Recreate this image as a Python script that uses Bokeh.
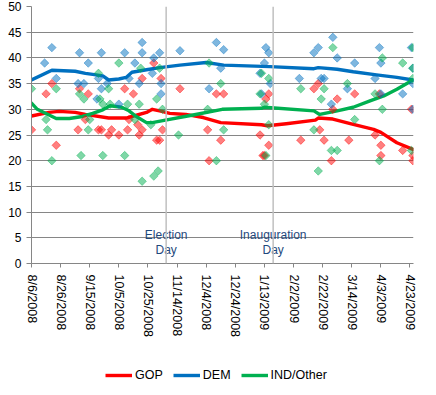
import pandas as pd
from bokeh.plotting import figure
from bokeh.layouts import column
from bokeh.models import (Span, FixedTicker, CustomJSTickFormatter, Legend, LegendItem,
                          Range1d)
from bokeh.core.properties import value
from bokeh.embed import file_html
from bokeh.resources import INLINE

# ---------------- data ----------------
gop_dates = ["2008-08-06", "2008-08-16", "2008-08-20", "2008-08-23", "2008-09-07", "2008-09-08",
             "2008-09-12", "2008-09-14", "2008-09-21", "2008-09-23", "2008-09-28", "2008-09-30",
             "2008-10-05", "2008-10-09", "2008-10-11", "2008-10-12", "2008-10-15", "2008-10-18",
             "2008-10-19", "2008-10-21", "2008-10-21", "2008-10-29", "2008-10-31", "2008-11-02",
             "2008-11-03", "2008-11-04", "2008-11-16", "2008-12-05", "2008-12-06", "2008-12-11",
             "2008-12-14", "2008-12-16", "2009-01-10", "2009-01-12", "2009-01-13", "2009-01-14",
             "2009-01-16", "2009-01-16", "2009-02-07", "2009-02-16", "2009-02-19", "2009-02-20",
             "2009-02-23", "2009-02-28", "2009-03-01", "2009-03-04", "2009-03-12", "2009-03-16",
             "2009-03-30", "2009-04-02", "2009-04-03", "2009-04-03", "2009-04-18", "2009-04-24",
             "2009-04-25", "2009-04-25"]
gop_values = [26, 33, 35, 23, 26, 34, 28, 33, 26, 26, 25, 26, 25, 34, 26, 28, 33, 27, 25, 26, 36,
              39, 24, 24, 36, 26, 34, 26, 20, 33, 24, 33, 25, 21, 21, 32, 33, 23, 24, 34, 35, 26,
              24, 20, 30, 32, 24, 33, 25, 33, 23, 21, 22, 30, 21, 20]

dem_dates = ["2008-08-15", "2008-08-20", "2008-08-23", "2008-09-07", "2008-09-08", "2008-09-11",
             "2008-09-14", "2008-09-20", "2008-09-21", "2008-09-23", "2008-09-23", "2008-09-27",
             "2008-10-05", "2008-10-09", "2008-10-12", "2008-10-16", "2008-10-19", "2008-10-21",
             "2008-10-21", "2008-10-28", "2008-10-29", "2008-11-02", "2008-11-03", "2008-11-03",
             "2008-11-16", "2008-12-06", "2008-12-11", "2008-12-14", "2008-12-16", "2009-01-10",
             "2009-01-11", "2009-01-13", "2009-01-14", "2009-01-16", "2009-01-17", "2009-02-06",
             "2009-02-16", "2009-02-19", "2009-02-21", "2009-02-23", "2009-02-28", "2009-03-01",
             "2009-03-04", "2009-03-11", "2009-03-16", "2009-03-30", "2009-04-02", "2009-04-03",
             "2009-04-03", "2009-04-18", "2009-04-24", "2009-04-25", "2009-04-25", "2009-04-25"]
dem_values = [39, 42, 36, 35, 41, 35, 39, 32, 36, 41, 34, 35, 31, 41, 36, 39, 35, 43, 41, 37, 40,
              41, 33, 35, 41.4, 34, 43, 38, 41.6, 37, 33, 39, 42, 41, 35, 36, 41, 42, 36, 36, 31,
              44, 40, 34, 39, 36, 42, 39, 33, 33, 42, 35, 30, 38]

ind_dates = ["2008-08-06", "2008-08-16", "2008-08-17", "2008-08-20", "2008-08-23", "2008-09-08",
             "2008-09-09", "2008-09-11", "2008-09-14", "2008-09-15", "2008-09-21", "2008-09-22",
             "2008-09-24", "2008-09-24", "2008-09-28", "2008-09-29", "2008-10-05", "2008-10-09",
             "2008-10-11", "2008-10-16", "2008-10-19", "2008-10-20", "2008-10-21", "2008-10-27",
             "2008-10-29", "2008-10-31", "2008-11-01", "2008-11-02", "2008-11-04", "2008-11-15",
             "2008-12-05", "2008-12-06", "2008-12-11", "2008-12-14", "2008-12-16", "2009-01-10",
             "2009-01-11", "2009-01-13", "2009-01-14", "2009-01-16", "2009-01-16", "2009-02-07",
             "2009-02-16", "2009-02-19", "2009-02-21", "2009-02-23", "2009-02-28", "2009-03-01",
             "2009-03-04", "2009-03-11", "2009-03-16", "2009-03-30", "2009-04-02", "2009-04-04",
             "2009-04-04", "2009-04-18", "2009-04-24", "2009-04-25", "2009-04-25", "2009-04-25"]
ind_values = [34, 28, 26, 20, 34, 33, 21, 32, 26, 28, 37, 32, 31, 21, 34, 31, 39, 21, 31, 28, 31,
              38, 16, 27, 17, 32, 18, 38, 30, 25, 30, 39, 20, 35, 26, 33, 37, 31, 21, 27, 36, 34,
              26, 18, 32, 34, 22, 42, 22, 35, 28, 33, 20, 40, 30, 39, 22, 38, 36, 42]

# smoothed trend lines
gop_trend_dates = ["2008-08-06", "2008-08-18", "2008-08-25", "2008-09-05", "2008-09-12",
                   "2008-09-28", "2008-10-10", "2008-10-14", "2008-10-24", "2008-10-28",
                   "2008-11-02", "2008-11-09", "2008-11-20", "2008-12-02", "2008-12-14",
                   "2009-01-11", "2009-01-15", "2009-01-28", "2009-02-17", "2009-02-19",
                   "2009-03-01", "2009-03-13", "2009-03-29", "2009-04-03", "2009-04-14",
                   "2009-04-25"]
gop_trend = [28.7, 29.4, 29.6, 29.4, 29.0, 28.3, 28.3, 28.6, 29.4, 30.0, 29.7, 29.2, 29.0, 28.4,
             27.4, 27.0, 26.8, 27.2, 27.9, 28.3, 28.1, 27.2, 26.1, 25.5, 23.5, 22.2]

dem_trend_dates = ["2008-08-06", "2008-08-20", "2008-09-05", "2008-09-12", "2008-09-17",
                   "2008-09-24", "2008-09-28", "2008-10-05", "2008-10-10", "2008-10-14",
                   "2008-10-24", "2008-11-02", "2008-11-16", "2008-12-04", "2008-12-16",
                   "2009-01-17", "2009-02-16", "2009-02-19", "2009-03-04", "2009-03-15",
                   "2009-03-31", "2009-04-14", "2009-04-25"]
dem_trend = [35.7, 37.6, 37.4, 37.0, 36.8, 36.5, 35.7, 35.9, 36.2, 37.2, 37.7, 38.1, 38.6, 39.1,
             38.6, 38.3, 37.9, 38.1, 37.8, 37.3, 36.7, 36.2, 35.7]

ind_trend_dates = ["2008-08-06", "2008-08-10", "2008-08-23", "2008-09-01", "2008-09-10",
                   "2008-09-17", "2008-09-24", "2008-09-29", "2008-10-07", "2008-10-12",
                   "2008-10-17", "2008-10-24", "2008-10-28", "2008-11-06", "2008-11-25",
                   "2008-12-15", "2009-01-11", "2009-01-13", "2009-02-16", "2009-02-20",
                   "2009-03-04", "2009-03-15", "2009-03-27", "2009-04-05", "2009-04-14",
                   "2009-04-25"]
ind_trend = [31.2, 30.0, 28.2, 28.2, 28.6, 29.2, 29.9, 30.7, 30.4, 29.7, 28.6, 27.4, 27.4, 27.9,
             28.9, 30.0, 30.2, 30.4, 29.7, 29.0, 29.7, 30.4, 31.7, 32.6, 33.9, 35.7]

tick_dates = ["2008-08-06", "2008-08-26", "2008-09-15", "2008-10-05", "2008-10-25", "2008-11-14",
              "2008-12-04", "2008-12-24", "2009-01-13", "2009-02-02", "2009-02-22", "2009-03-14",
              "2009-04-03", "2009-04-23"]
y_ticks = [0, 5, 10, 15, 20, 25, 30, 35, 40, 45, 50]

event_dates = ["2008-11-06 12:00", "2009-01-19 00:00"]
event_labels = ["Election\nDay", "Inauguration\nDay"]

series_names = ["GOP", "DEM", "IND/Other"]
line_colors = ["#ff0000", "#0070c0", "#00b050"]

FONT = "Liberation Sans"


def dt(lst):
    return pd.to_datetime(pd.Series(lst), format="mixed")


p = figure(frame_width=382, frame_height=257, x_axis_type="datetime",
           x_range=Range1d(pd.Timestamp("2008-08-06"), pd.Timestamp("2009-04-25 10:00")),
           y_range=Range1d(0, 50),
           output_backend="svg", toolbar_location=None,
           min_border_left=31, min_border_right=7, min_border_top=6, min_border_bottom=90)

p.outline_line_color = None
p.background_fill_color = "white"
p.border_fill_color = "white"

# grid
p.xgrid.grid_line_color = None
p.ygrid.grid_line_color = "#868686"
p.ygrid.grid_line_width = 1
p.ygrid.ticker = FixedTicker(ticks=y_ticks)

# axes
p.yaxis.ticker = FixedTicker(ticks=y_ticks)
p.yaxis.axis_line_color = "#868686"
p.yaxis.major_tick_line_color = "#868686"
p.yaxis.major_tick_out = 5
p.yaxis.major_tick_in = 0
p.yaxis.minor_tick_line_color = None
p.yaxis.major_label_standoff = 5
p.yaxis.major_label_text_font = FONT
p.yaxis.major_label_text_font_size = "12px"
p.yaxis.major_label_text_color = "#000000"

tick_ms = [pd.Timestamp(d).value / 1e6 for d in tick_dates]
p.xaxis.ticker = FixedTicker(ticks=tick_ms)
p.xaxis.formatter = CustomJSTickFormatter(code="""
    const d = new Date(tick);
    return (d.getUTCMonth() + 1) + "/" + d.getUTCDate() + "/" + d.getUTCFullYear();
""")
p.xaxis.major_label_orientation = -1.5707963
p.xaxis.axis_line_color = "#868686"
p.xaxis.major_tick_line_color = "#868686"
p.xaxis.major_tick_out = 4
p.xaxis.major_tick_in = 0
p.xaxis.minor_tick_line_color = None
p.xaxis.major_label_standoff = 7
p.xaxis.major_label_text_font = FONT
p.xaxis.major_label_text_font_size = "12.5px"
p.xaxis.major_label_text_color = "#000000"

# event lines
for d in event_dates:
    p.add_layout(Span(location=pd.Timestamp(d), dimension="height",
                      line_color="#c0c0c0", line_width=1.5))

p.text(x=dt(event_dates), y=[4.1, 4.1], text=event_labels,
       text_font=value(FONT), text_font_size="12px", text_color="#1f497d",
       text_align="center", text_baseline="middle", text_line_height=1.1)

# trend lines
for dates, vals, col in [(gop_trend_dates, gop_trend, line_colors[0]),
                         (dem_trend_dates, dem_trend, line_colors[1]),
                         (ind_trend_dates, ind_trend, line_colors[2])]:
    p.line(x=dt(dates), y=vals, line_color=col, line_width=3.4,
           line_join="round", line_cap="round")

# scatter markers
for dates, vals, col in [(gop_dates, gop_values, line_colors[0]),
                         (dem_dates, dem_values, line_colors[1]),
                         (ind_dates, ind_values, line_colors[2])]:
    p.scatter(x=dt(dates), y=vals, marker="square", angle=0.7853982, size=6,
              fill_color=col, line_color=col, fill_alpha=0.5, line_alpha=0.5, line_width=0.8)

# legend strip below the chart (legend key renderers sit outside the visible range)
lf = figure(width=420, height=35, x_range=Range1d(0, 1), y_range=Range1d(0, 1),
            output_backend="svg", toolbar_location=None,
            x_axis_location=None, y_axis_location=None, min_border=0)
lf.grid.visible = False
lf.outline_line_color = None
legend_renderers = [lf.line(x=[-10, -9], y=[-10, -9], line_color=c, line_width=3.4)
                    for c in line_colors]
legend = Legend(items=[LegendItem(label=n, renderers=[r]) for n, r in zip(series_names, legend_renderers)],
                orientation="horizontal", location=(74, 6),
                border_line_alpha=0, background_fill_alpha=0,
                label_text_font=FONT, label_text_font_size="12.5px", label_text_color="#000000",
                glyph_width=27, glyph_height=14, label_standoff=3, spacing=10, padding=0,
                margin=0, label_width=10, label_height=14)
lf.add_layout(legend, "center")

layout = column(p, lf, spacing=0)
open("out.html", "w").write(file_html(layout, INLINE))
